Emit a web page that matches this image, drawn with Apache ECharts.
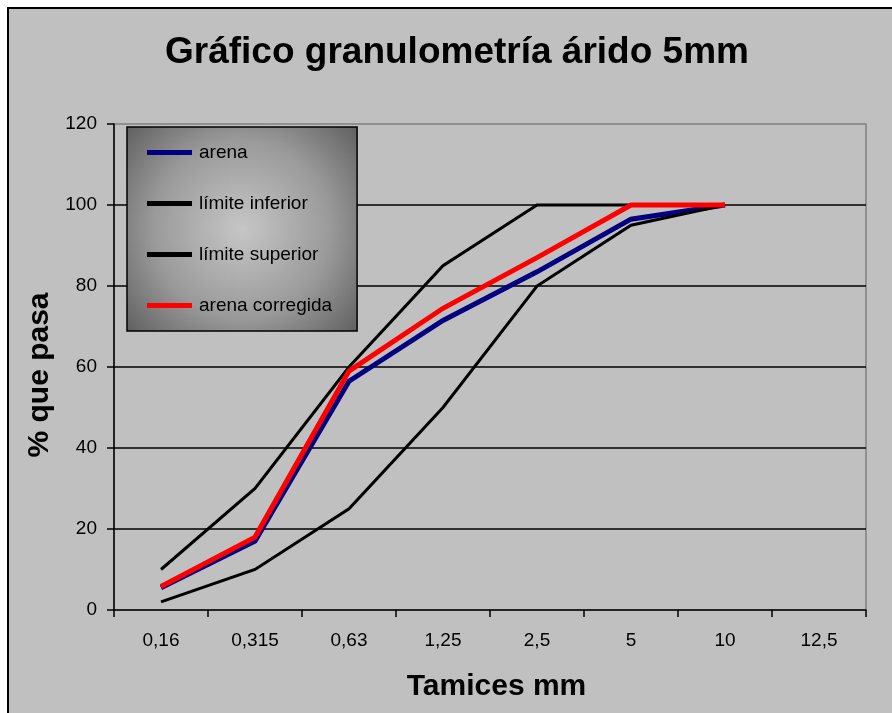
<!DOCTYPE html>
<html>
<head>
<meta charset="utf-8">
<title>Gráfico granulometría árido 5mm</title>
<script src="https://cdn.jsdelivr.net/npm/echarts@6/dist/echarts.min.js"></script>
<style>
  html, body { margin: 0; padding: 0; background: #ffffff; }
  #chart { width: 892px; height: 713px; }
</style>
</head>
<body>
<div id="chart"></div>
<script>
// Sieve sizes (mm) shown on the category axis
const tamices = ['0,16', '0,315', '0,63', '1,25', '2,5', '5', '10', '12,5'];

// % passing for each sieve (no value recorded for 12,5)
const arena = [5.5, 17, 56.5, 71.5, 83.5, 96.5, 100, null];
const limiteInferior = [2, 10, 25, 50, 80, 95, 100, null];
const limiteSuperior = [10, 30, 60, 85, 100, 100, 100, null];
const arenaCorregida = [5.8, 18, 59, 74.5, 87, 100, 100, null];

// Value-axis ticks
const yTicks = [0, 20, 40, 60, 80, 100, 120];

const FONT = '"Liberation Sans", Arial, Helvetica, sans-serif';

const chart = echarts.init(document.getElementById('chart'), null, { renderer: 'canvas' });

function lineSeries(name, data, color, width) {
  return {
    name: name,
    type: 'line',
    data: data,
    symbol: 'none',
    showSymbol: false,
    connectNulls: false,
    itemStyle: { color: color },
    lineStyle: { color: color, width: width, join: 'miter' },
    emphasis: { disabled: true }
  };
}

chart.setOption({
  backgroundColor: '#ffffff',
  animation: false,
  graphic: [{
    type: 'rect',
    z: -10,
    shape: { x: 8, y: 8, width: 900, height: 720 },
    style: { fill: '#c0c0c0', stroke: '#000000', lineWidth: 2 }
  }],
  title: {
    text: 'Gráfico granulometría árido 5mm',
    left: 160,
    top: 29,
    padding: 5,
    textStyle: { fontFamily: FONT, fontSize: 37, fontWeight: 'bold', color: '#000000' }
  },
  grid: {
    left: 114, top: 124, right: 26, bottom: 103,
    show: true,
    backgroundColor: '#c0c0c0',
    borderColor: '#808080',
    borderWidth: 1.5
  },
  legend: {
    orient: 'vertical',
    left: 127,
    top: 127,
    padding: [16, 25, 16, 20],
    itemWidth: 45,
    itemHeight: 5,
    itemGap: 32,
    icon: 'rect',
    selectedMode: false,
    backgroundColor: {
      type: 'radial', x: 0.5, y: 0.5, r: 0.78,
      colorStops: [
        { offset: 0, color: '#c6c6c6' },
        { offset: 0.55, color: '#9a9a9a' },
        { offset: 1, color: '#5a5a5a' }
      ]
    },
    borderColor: '#000000',
    borderWidth: 1.5,
    textStyle: { fontFamily: FONT, fontSize: 19, color: '#000000', padding: [0, 0, 0, 2] },
    data: ['arena', 'límite inferior', 'límite superior', 'arena corregida']
  },
  xAxis: {
    type: 'category',
    data: tamices,
    boundaryGap: true,
    name: 'Tamices mm',
    nameLocation: 'middle',
    nameGap: 62,
    nameTextStyle: { fontFamily: FONT, fontSize: 30, fontWeight: 'bold', color: '#000000', padding: [0, 0, 0, 13] },
    axisLine: { lineStyle: { color: '#000000', width: 1.5 } },
    axisTick: { show: true, alignWithLabel: false, length: 7, lineStyle: { color: '#000000', width: 1.5 } },
    axisLabel: { fontFamily: FONT, fontSize: 19, color: '#000000', margin: 21 },
    splitLine: { show: false }
  },
  yAxis: {
    type: 'value',
    min: yTicks[0],
    max: yTicks[yTicks.length - 1],
    interval: 20,
    name: '% que pasa',
    nameLocation: 'middle',
    nameGap: 59,
    nameRotate: 90,
    nameTextStyle: { fontFamily: FONT, fontSize: 30, fontWeight: 'bold', color: '#000000', padding: [0, 16, 0, 0] },
    axisLine: { show: true, lineStyle: { color: '#000000', width: 1.5 } },
    axisTick: { show: true, length: 7, lineStyle: { color: '#000000', width: 1.5 } },
    axisLabel: { fontFamily: FONT, fontSize: 19, color: '#000000', margin: 17 },
    splitLine: { show: true, showMinLine: false, showMaxLine: false, lineStyle: { color: '#000000', width: 1.5 } }
  },
  series: [
    lineSeries('arena', arena, '#000080', 5),
    lineSeries('límite inferior', limiteInferior, '#000000', 3),
    lineSeries('límite superior', limiteSuperior, '#000000', 3),
    lineSeries('arena corregida', arenaCorregida, '#ff0000', 5)
  ]
});
</script>
</body>
</html>
